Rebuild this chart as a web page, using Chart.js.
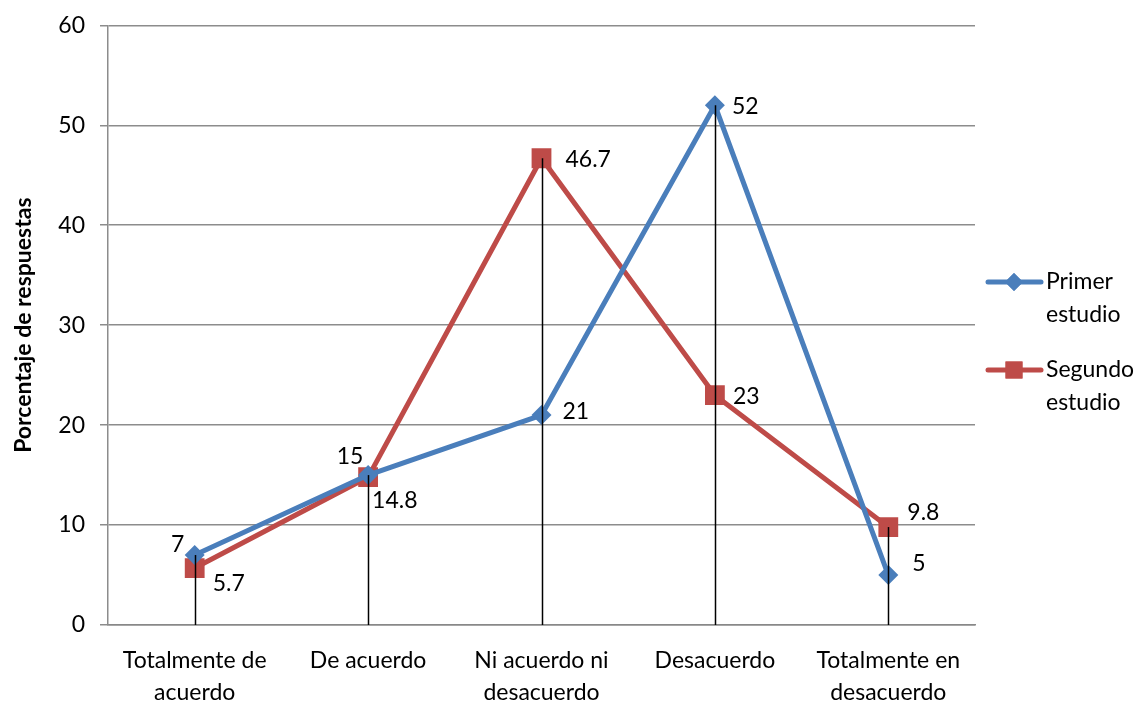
<!DOCTYPE html>
<html>
<head>
<meta charset="utf-8">
<script src="https://cdn.jsdelivr.net/npm/chart.js@4.4.0/dist/chart.umd.min.js"></script>
<style>
  body { margin: 0; background: #fff; }
  #chart { display: block; }
</style>
</head>
<body>
<canvas id="chart" width="1141" height="702"></canvas>
<script>
const categories = [
    ["Totalmente de", "acuerdo"],
    ["De acuerdo"],
    ["Ni acuerdo ni", "desacuerdo"],
    ["Desacuerdo"],
    ["Totalmente en", "desacuerdo"]
];
const primerEstudio = [7, 15, 21, 52, 5];
const segundoEstudio = [5.7, 14.8, 46.7, 23, 9.8];
const seriesNames = [["Primer", "estudio"], ["Segundo", "estudio"]];
const yTicks = [0, 10, 20, 30, 40, 50, 60];

const BLUE = "#4A7EBB";
const RED = "#BE4B48";
const FONT = "Lato, 'Noto Sans', sans-serif";
const FSIZE = 23;

// label offsets per point (x, y, align) relative to the marker
const labelOffsets = [
    [[-17, -10, "center"], [-18, -19, "center"], [21, -4, "left"], [17, 1, "left"], [24, -11, "left"]],
    [[18, 16, "left"], [4, 23, "left"], [24, 1, "left"], [18, 1, "left"], [19, -14, "left"]]
];

const extras = {
    id: "extras",
    afterDatasetsDraw(chart) {
        const ctx = chart.ctx;
        const y = chart.scales.y;
        const m0 = chart.getDatasetMeta(0).data;
        const m1 = chart.getDatasetMeta(1).data;
        ctx.save();
        // drop lines
        ctx.strokeStyle = "#000";
        ctx.lineWidth = 1.5;
        for (let i = 0; i < m0.length; i++) {
            const top = Math.min(m0[i].y, m1[i].y);
            ctx.beginPath();
            ctx.moveTo(Math.round(m0[i].x) + 0.5, top);
            ctx.lineTo(Math.round(m0[i].x) + 0.5, y.bottom);
            ctx.stroke();
        }
        // data labels
        ctx.fillStyle = "#000";
        ctx.font = FSIZE + "px " + FONT;
        ctx.textBaseline = "middle";
        chart.data.datasets.forEach((ds, d) => {
            chart.getDatasetMeta(d).data.forEach((pt, i) => {
                const off = labelOffsets[d][i];
                ctx.textAlign = off[2];
                ctx.fillText(String(ds.data[i]), pt.x + off[0], pt.y + off[1]);
            });
        });
        // legend
        const items = [
            { color: BLUE, style: "rectRot", radius: 9, y: 282, text: seriesNames[0] },
            { color: RED, style: "rect", radius: 12, y: 370, text: seriesNames[1] }
        ];
        items.forEach(it => {
            ctx.strokeStyle = it.color;
            ctx.lineWidth = 5;
            ctx.lineCap = "round";
            ctx.beginPath();
            ctx.moveTo(988, it.y);
            ctx.lineTo(1041, it.y);
            ctx.stroke();
            ctx.fillStyle = it.color;
            Chart.helpers.drawPoint(ctx, { pointStyle: it.style, radius: it.radius, borderWidth: 0, rotation: 0 }, 1014, it.y);
            ctx.fill();
            ctx.fillStyle = "#000";
            ctx.textAlign = "left";
            ctx.font = FSIZE + "px " + FONT;
            ctx.fillText(it.text[0], 1046, it.y);
            ctx.fillText(it.text[1], 1046, it.y + 33);
        });
        ctx.restore();
    }
};

new Chart(document.getElementById("chart"), {
    type: "line",
    data: {
        labels: categories,
        datasets: [
            {
                label: "Primer estudio",
                data: primerEstudio,
                borderColor: BLUE,
                backgroundColor: BLUE,
                borderWidth: 5,
                pointStyle: "rectRot",
                pointRadius: 10,
                pointHoverRadius: 10,
                pointBorderWidth: 0,
                tension: 0
            },
            {
                label: "Segundo estudio",
                data: segundoEstudio,
                borderColor: RED,
                backgroundColor: RED,
                borderWidth: 5,
                pointStyle: "rect",
                pointRadius: 14,
                pointHoverRadius: 14,
                pointBorderWidth: 0,
                tension: 0
            }
        ]
    },
    options: {
        responsive: false,
        animation: false,
        events: [],
        layout: { padding: { top: 24, right: 166, left: 0, bottom: 0 } },
        scales: {
            x: {
                offset: true,
                grid: { display: false, drawTicks: false, offset: true },
                border: { display: true, color: "#888", width: 1.5 },
                ticks: {
                    color: "#000",
                    font: { family: FONT, size: FSIZE, lineHeight: 1.4 },
                    padding: 19,
                    maxRotation: 0,
                    autoSkip: false
                },
                afterFit: function (scale) { scale.height = 77; }
            },
            y: {
                min: 0,
                max: 60,
                afterBuildTicks: function (scale) {
                    scale.ticks = yTicks.map(v => ({ value: v }));
                },
                grid: { color: "#8c8c8c", lineWidth: 1.5, tickLength: 8 },
                border: { display: true, color: "#8c8c8c", width: 1.5 },
                ticks: {
                    color: "#000",
                    font: { family: FONT, size: FSIZE, lineHeight: 0.9 },
                    padding: 15
                },
                title: {
                    display: true,
                    text: "Porcentaje de respuestas",
                    color: "#000",
                    font: { family: FONT, size: 23, weight: "bold" },
                    padding: { top: 10, bottom: 0 }
                },
                afterFit: function (scale) { scale.width = 108; }
            }
        },
        plugins: {
            legend: { display: false },
            tooltip: { enabled: false }
        }
    },
    plugins: [extras]
});
</script>
</body>
</html>
